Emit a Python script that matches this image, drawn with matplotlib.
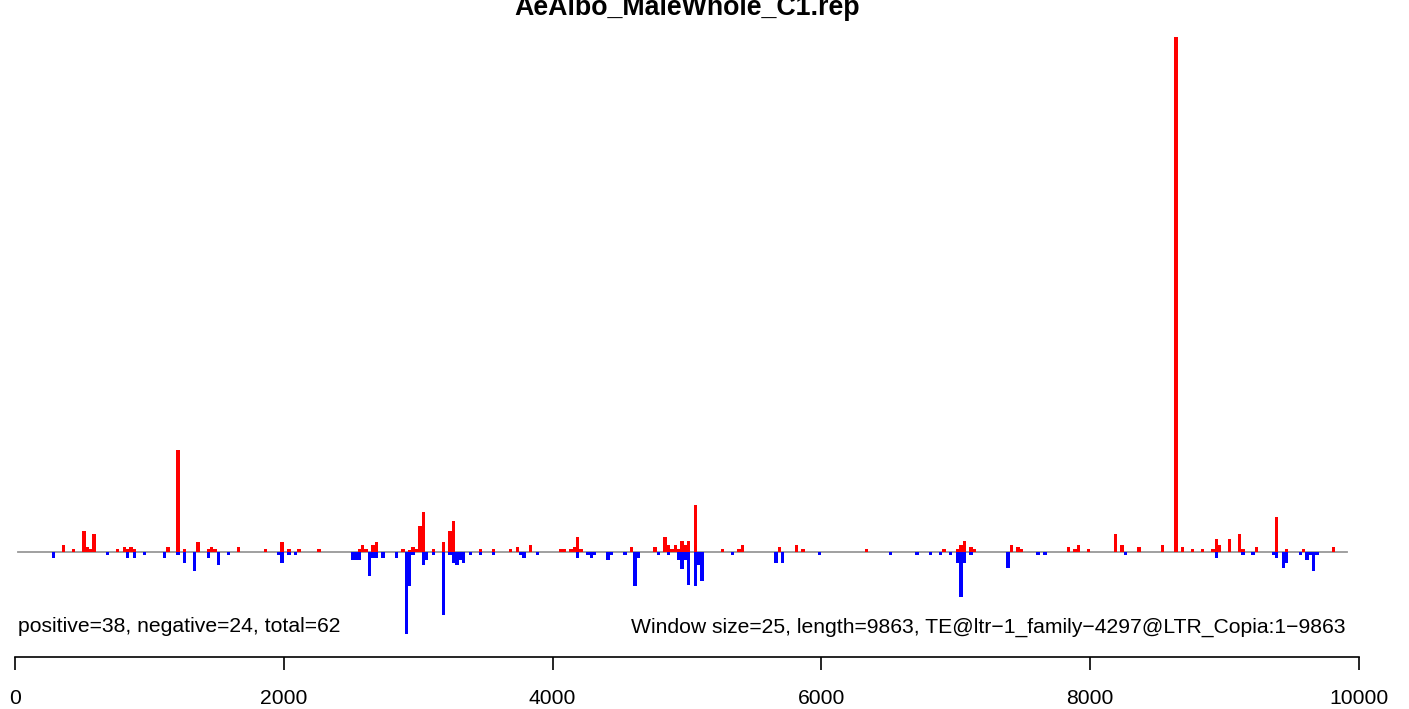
import numpy as np
import matplotlib
matplotlib.use("Agg")
from matplotlib import pyplot as plt

plt.rcParams['font.family'] = ['Liberation Sans', 'DejaVu Sans']

# window size 25 -> bar i covers [i*25, (i+1)*25]
WINDOW = 25
TITLE = "AeAlbo_MaleWhole_C1.rep"
LEFT_TEXT = "positive=38, negative=24, total=62"
RIGHT_TEXT = "Window size=25, length=9863, TE@ltr\u22121_family\u22124297@LTR_Copia:1\u22129863"

# positive strand windows (red): index, value
pos_idx = [14, 17, 20, 21, 22, 23, 30, 32, 33, 34, 35, 45, 48, 50, 54, 57, 58, 59, 66,
           74, 79, 81, 84, 90, 102, 103, 104, 106, 107, 115, 117, 118, 119, 120, 121, 124, 127, 129, 130,
           138, 142, 147, 149, 153, 162, 163, 165, 166, 167, 168, 183, 190, 193, 194, 195, 196, 197,
           198, 199, 200, 202,
           210, 215, 216, 227, 232, 234, 253, 276, 280, 281, 282, 284, 285, 296, 298, 299,
           313, 315, 316, 319, 327, 329, 334, 341, 345, 347, 350, 353, 356, 357, 358, 361,
           364, 365, 369, 375, 378, 383, 392]
pos_val = [7, 2.7, 21, 5.5, 2.7, 18, 2.7, 5.5, 2.7, 5.5, 2.7, 5.5, 102, 2.7, 10, 2.7, 5.5, 2.7, 5.5,
           2.7, 10, 2.7, 2.7, 2.7, 2.7, 7, 2.7, 7, 10, 2.7, 2, 5.5, 2.7, 26, 40, 2.7, 10, 21, 31,
           2.7, 2.7, 2.7, 5.5, 7, 2.7, 2.7, 2.7, 5.5, 15, 2.7, 5.5, 5.5, 15, 7, 2.7, 7, 2.7,
           11, 7, 11, 47,
           2.7, 2.7, 7, 5.5, 7, 2.7, 2.7, 2.7, 2.7, 7, 11, 5.5, 2.7, 7, 5.5, 2.7,
           5.5, 2.7, 7, 2.7, 18, 7, 5.5, 7, 515, 5.5, 2.7, 2.7, 2.7, 13, 7, 13,
           18, 2.7, 5.5, 35, 2.7, 2.7, 5.5]

# negative strand windows (blue): index, value
neg_idx = [11, 27, 33, 35, 38, 44, 48, 50, 53, 57, 60, 63,
           78, 79, 81, 83, 100, 101, 102, 105, 106, 107, 109, 113, 116, 117, 118, 121, 122, 124,
           127, 129, 130, 131, 132, 133, 135,
           138, 142, 150, 151, 155, 167, 170, 171, 172, 176, 177, 181, 184, 185, 191, 194,
           197, 198, 199, 200, 202, 203, 204, 213, 226, 228, 239, 260, 268, 272, 275, 278,
           280, 281, 282, 284, 295, 304, 306, 330, 357, 365, 368, 374, 375, 377, 378, 382,
           384, 385, 386, 387]
neg_val = [6, 3, 6, 6, 3, 6, 3, 11, 19, 6, 13, 3,
           3, 11, 3, 3, 8, 8, 8, 24, 6, 6, 6, 6, 82, 34, 3, 13, 8, 3,
           63, 3, 11, 13, 8, 11, 3,
           3, 3, 3, 6, 3, 6, 3, 6, 3, 8, 3, 3, 34, 6, 3, 3,
           8, 17, 8, 33, 34, 13, 29, 3, 11, 11, 3, 3, 3, 3, 3, 3,
           11, 45, 11, 3, 16, 3, 3, 3, 6, 3, 3, 3, 6, 16, 11, 3,
           8, 3, 19, 3]

xticks = [0, 2000, 4000, 6000, 8000, 10000]

W, H = 1409, 709
fig = plt.figure(figsize=(W / 100, H / 100), dpi=100)
ax = fig.add_axes([15 / W, (H - 657) / H, (1359 - 15) / W, (657 - 30) / H])

ax.axhline(0, xmin=20 / 10000, xmax=9911 / 10000, color="#999999", linewidth=1.3, zorder=1)
ax.bar(np.array(pos_idx) * WINDOW, pos_val, width=WINDOW, align="edge", color="red", linewidth=0, zorder=2)
ax.bar(np.array(neg_idx) * WINDOW, -np.array(neg_val), width=WINDOW, align="edge", color="blue", linewidth=0, zorder=2)

ax.set_xlim(0, 10000)
ax.set_ylim(-105, 522)

for s in ["top", "left", "right"]:
    ax.spines[s].set_visible(False)
ax.spines["bottom"].set_linewidth(1.2)
ax.set_yticks([])
ax.set_xticks(xticks)
ax.set_xticklabels([str(t) for t in xticks], fontsize=15.2)
ax.tick_params(axis="x", length=9, width=1.2, pad=14)

ax.text(22, -75, LEFT_TEXT, fontsize=15.2, ha="left", va="center")
ax.text(9903, -75, RIGHT_TEXT, fontsize=15.2, ha="right", va="center")

fig.text((15 + 1359) / 2 / W, 1 - 15 / H, TITLE, fontsize=19.3, fontweight="bold", ha="center", va="baseline")

plt.savefig("out.png", dpi=100)
plt.close()
